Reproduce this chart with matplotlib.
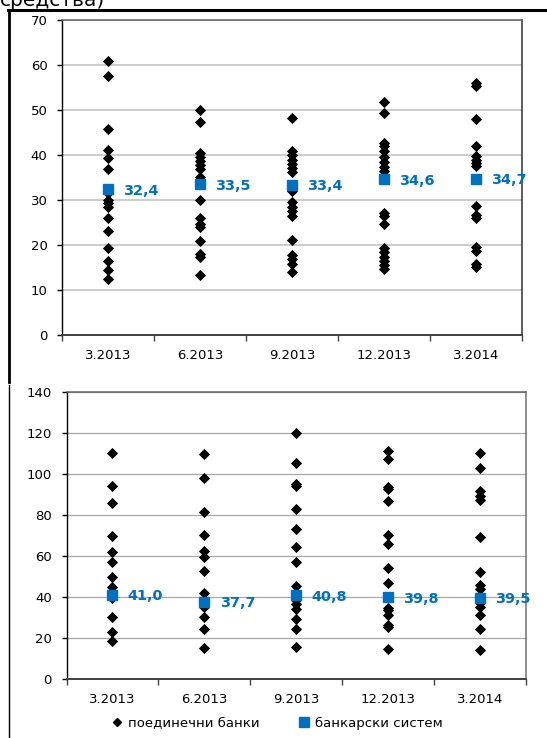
import matplotlib
matplotlib.use('Agg')
import matplotlib.pyplot as plt
from matplotlib.lines import Line2D

# ── ДАННИ ────────────────────────────────────────────────
periods = ["3.2013", "6.2013", "9.2013", "12.2013", "3.2014"]

# горна графика: поединечни банки
top_banks = [
    [60.9, 57.6, 45.8, 41.1, 39.3, 36.9, 31.5, 30.0, 29.3, 28.5, 26.1, 23.2, 19.3, 16.5, 14.4, 12.4],
    [50.1, 47.4, 40.5, 39.6, 38.7, 37.8, 37.0, 35.2, 29.9, 26.1, 24.7, 24.1, 20.9, 17.9, 17.3, 13.3],
    [48.3, 40.9, 40.0, 39.0, 38.1, 37.2, 36.3, 31.9, 29.5, 28.5, 27.6, 26.5, 21.1, 17.8, 16.9, 15.8, 14.1],
    [51.7, 49.3, 42.6, 41.9, 40.9, 39.6, 38.5, 37.4, 36.4, 27.2, 26.5, 24.6, 19.3, 18.4, 17.4, 16.5, 15.6, 14.6],
    [55.9, 55.4, 48.0, 42.1, 39.8, 39.0, 38.3, 37.6, 28.7, 26.7, 25.9, 19.6, 18.7, 15.8, 15.2],
]
top_system = [32.4, 33.5, 33.4, 34.6, 34.7]

# долна графика
bot_banks = [
    [110.1, 94.1, 85.7, 69.8, 61.8, 57.2, 49.9, 45.0, 39.5, 30.4, 23.1, 18.5],
    [109.8, 97.9, 81.3, 70.2, 62.4, 59.7, 52.8, 41.8, 35.3, 30.1, 24.4, 15.3],
    [119.8, 105.5, 95.1, 94.1, 82.9, 73.2, 64.5, 57.2, 45.5, 38.5, 36.6, 34.1, 29.1, 24.4, 15.8],
    [111.2, 107.3, 93.8, 92.5, 87.0, 70.2, 65.9, 54.3, 46.7, 34.8, 33.7, 31.2, 26.3, 25.5, 14.5],
    [110.1, 102.8, 91.7, 89.3, 87.3, 69.4, 52.0, 45.9, 43.7, 37.2, 35.3, 31.2, 24.2, 14.1],
]
bot_system = [41.0, 37.7, 40.8, 39.8, 39.5]

BLUE = "#0070C0"
plt.rcParams['font.family'] = ['DejaVu Sans']

fig = plt.figure(figsize=(5.47, 7.38), dpi=100)


def draw_panel(ax, banks, system, ymax, step, grid_color, grid_lw):
    for i, vals in enumerate(banks):
        ax.plot([i] * len(vals), vals, linestyle='none', marker='D',
                color='black', markersize=4.7, markeredgewidth=0.6, zorder=3)
    xs = list(range(len(system)))
    ax.plot(xs, system, linestyle='none', marker='s', color=BLUE,
            markersize=7.8, zorder=4)
    for x, v in zip(xs, system):
        ax.annotate(f"{v:.1f}".replace('.', ','), (x, v), xytext=(11, -1),
                    textcoords='offset points', va='center', ha='left',
                    color=BLUE, fontsize=10.4, fontweight='bold', zorder=5)

    ax.set_xlim(-0.5, len(periods) - 0.5)
    ax.set_ylim(0, ymax)
    ax.set_yticks(range(0, ymax + 1, step))
    ax.yaxis.grid(True, color=grid_color, linewidth=grid_lw)
    ax.set_axisbelow(True)

    # гранични црти меѓу периодите, етикети во средина
    ax.set_xticks([i - 0.5 for i in range(len(periods) + 1)])
    ax.set_xticklabels([])
    ax.set_xticks(range(len(periods)), minor=True)
    ax.set_xticklabels(periods, minor=True)
    ax.tick_params(axis='x', which='major', direction='out', length=4.5,
                   width=1, color='#404040')
    ax.tick_params(axis='x', which='minor', length=0, pad=10, labelsize=9.5)
    ax.tick_params(axis='y', direction='out', length=3.5, width=1,
                   pad=7, labelsize=9.5)

    ax.spines['left'].set_color('black')
    ax.spines['left'].set_linewidth(1.0)
    ax.spines['bottom'].set_color('#404040')
    ax.spines['bottom'].set_linewidth(1.4)
    ax.spines['top'].set_color('#606060')
    ax.spines['top'].set_linewidth(1.1)
    ax.spines['right'].set_color('#303030')
    ax.spines['right'].set_linewidth(1.1)


ax1 = fig.add_axes([62 / 547, 1 - 335 / 738, 460 / 547, 315 / 738])
draw_panel(ax1, top_banks, top_system, 70, 10, '#c4c4c4', 1.2)

ax2 = fig.add_axes([66.5 / 547, 1 - 679 / 738, 459.5 / 547, 287 / 738])
draw_panel(ax2, bot_banks, bot_system, 140, 20, '#a8a8a8', 0.9)
ax2.spines['right'].set_color('#707070')

# рамка и текст од претходниот наслов
fig.add_artist(Line2D([8 / 547, 1], [1 - 10 / 738] * 2, color='black',
                      linewidth=2.2, transform=fig.transFigure))
fig.add_artist(Line2D([8.6 / 547] * 2, [1 - 10 / 738, 1 - 382 / 738],
                      color='black', linewidth=2.0, transform=fig.transFigure))
fig.add_artist(Line2D([8.6 / 547] * 2, [1 - 385 / 738, 0], color='black',
                      linewidth=1.0, transform=fig.transFigure))
fig.text(0.0, 1 - 6 / 738, "средства)", fontsize=14.5, ha='left',
         va='baseline')

handles = [
    Line2D([], [], linestyle='none', marker='D', color='black', markersize=4.0),
    Line2D([], [], linestyle='none', marker='s', color=BLUE, markersize=7.5),
]
fig.legend(handles, ["поединечни банки", "банкарски систем"],
           loc='center', bbox_to_anchor=(277 / 547, 1 - 723 / 738), ncol=2,
           frameon=False, fontsize=9.5, handlelength=0.8, handletextpad=0.4,
           columnspacing=3.0)

fig.savefig("out.png", dpi=100)
